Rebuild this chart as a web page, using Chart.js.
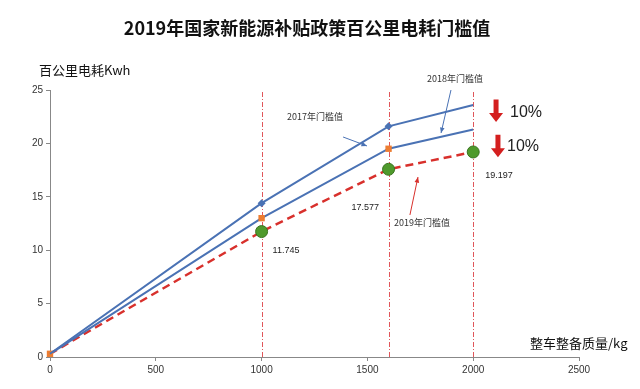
<!DOCTYPE html>
<html>
<head>
<meta charset="utf-8">
<script src="https://cdn.jsdelivr.net/npm/chart.js@4/dist/chart.umd.min.js"></script>
<style>
  html, body { margin: 0; padding: 0; background: #fff; }
  #wrap { width: 640px; height: 389px; position: relative; }
</style>
</head>
<body>
<div id="wrap"><canvas id="chart" width="640" height="389"></canvas></div>
<script>
// Chart data
const weights = [0, 1000, 1600, 2000];          // 整车整备质量 kg
const limit2017 = [0.3, 14.4, 21.6, 23.6];
const limit2018 = [0.3, 13.0, 19.5, 21.3];
const limit2019 = [0.3, 11.745, 17.577, 19.197];
const valueLabels = ['', '11.745', '17.577', '19.197'];
const markLines = [1000, 1600, 2000];
const xTicks = [0, 500, 1000, 1500, 2000, 2500];
const yTicks = [0, 5, 10, 15, 20, 25];

const titleText = '2019年国家新能源补贴政策百公里电耗门槛值';
const yTitle = '百公里电耗Kwh';
const xTitle = '整车整备质量/kg';

const BLUE = '#4a72b4';
const RED = '#d8302c';
const FONT = 'Arial, "Liberation Sans", "Noto Sans CJK SC", sans-serif';
const CJK = '"Noto Sans CJK SC", sans-serif';

function toPoints(ys) {
    return weights.map((w, i) => ({ x: w, y: ys[i] }));
}

// Vertical dash-dot reference lines
const markLinePlugin = {
    id: 'markLines',
    beforeDatasetsDraw(chart) {
        const { ctx, scales: { x, y } } = chart;
        ctx.save();
        ctx.strokeStyle = '#e0565a';
        ctx.lineWidth = 1;
        ctx.setLineDash([5, 2, 1, 2]);
        markLines.forEach(v => {
            const px = Math.round(x.getPixelForValue(v)) + 0.5;
            ctx.beginPath();
            ctx.moveTo(px, y.getPixelForValue(0));
            ctx.lineTo(px, y.getPixelForValue(25));
            ctx.stroke();
        });
        ctx.restore();
    }
};

function arrowLine(ctx, x1, y1, x2, y2, color) {
    const a = Math.atan2(y2 - y1, x2 - x1);
    ctx.strokeStyle = color;
    ctx.fillStyle = color;
    ctx.lineWidth = 1;
    ctx.beginPath();
    ctx.moveTo(x1, y1);
    ctx.lineTo(x2, y2);
    ctx.stroke();
    ctx.beginPath();
    ctx.moveTo(x2, y2);
    ctx.lineTo(x2 - 6 * Math.cos(a - 0.4), y2 - 6 * Math.sin(a - 0.4));
    ctx.lineTo(x2 - 6 * Math.cos(a + 0.4), y2 - 6 * Math.sin(a + 0.4));
    ctx.closePath();
    ctx.fill();
}

function blockArrowDown(ctx, cx, top, bottom) {
    ctx.fillStyle = '#d41f1f';
    ctx.beginPath();
    ctx.moveTo(cx - 2.5, top);
    ctx.lineTo(cx + 2.5, top);
    ctx.lineTo(cx + 2.5, bottom - 9);
    ctx.lineTo(cx + 7, bottom - 9);
    ctx.lineTo(cx, bottom);
    ctx.lineTo(cx - 7, bottom - 9);
    ctx.lineTo(cx - 2.5, bottom - 9);
    ctx.closePath();
    ctx.fill();
}

// Titles, labels and arrows
const annotationPlugin = {
    id: 'annotations',
    afterDraw(chart) {
        const { ctx, scales: { x, y } } = chart;
        const X = v => x.getPixelForValue(v);
        const Y = v => y.getPixelForValue(v);
        ctx.save();

        ctx.fillStyle = '#111';
        ctx.textBaseline = 'middle';
        ctx.textAlign = 'center';
        ctx.font = 'bold 18px ' + CJK;
        ctx.fillText(titleText, 307, 28);

        ctx.textAlign = 'left';
        ctx.font = '13px ' + CJK;
        ctx.fillText(yTitle, 39, 70);
        ctx.fillText(xTitle, 530, 343);

        // value labels on the 2019 line
        ctx.font = '9px ' + FONT;
        ctx.fillStyle = '#222';
        const offs = [null, [11, 19], [-37, 38], [12, 24]];
        valueLabels.forEach((t, i) => {
            if (!t) return;
            ctx.fillText(t, X(weights[i]) + offs[i][0], Y(limit2019[i]) + offs[i][1]);
        });

        // series annotations (data coordinates)
        ctx.font = '9px ' + CJK;
        ctx.fillStyle = '#333';
        ctx.textAlign = 'center';
        ctx.fillText('2017年门槛值', X(1252), Y(22.47));
        arrowLine(ctx, X(1385), Y(20.6), X(1498), Y(19.76), BLUE);
        ctx.fillStyle = '#333';
        ctx.fillText('2018年门槛值', X(1914), Y(26.1));
        arrowLine(ctx, X(1895), Y(25.0), X(1848), Y(20.97), BLUE);
        ctx.fillStyle = '#333';
        ctx.fillText('2019年门槛值', X(1758), Y(12.55));
        arrowLine(ctx, X(1701), Y(13.3), X(1739), Y(16.85), RED);

        // 10% reductions
        blockArrowDown(ctx, X(2108), Y(24.1), Y(22.0));
        blockArrowDown(ctx, X(2117), Y(20.8), Y(18.7));
        ctx.fillStyle = '#222';
        ctx.textAlign = 'left';
        ctx.font = '16px ' + FONT;
        ctx.fillText('10%', X(2174), Y(22.9));
        ctx.fillText('10%', X(2160), Y(19.66));

        ctx.restore();
    }
};

const ctx = document.getElementById('chart').getContext('2d');
new Chart(ctx, {
    type: 'line',
    data: {
        datasets: [
            {
                label: '2017年门槛值',
                data: toPoints(limit2017),
                borderColor: BLUE,
                backgroundColor: BLUE,
                borderWidth: 2,
                pointStyle: 'rectRot',
                pointRadius: [0, 4, 4, 0],
                pointBorderWidth: 0,
                clip: false
            },
            {
                label: '2018年门槛值',
                data: toPoints(limit2018),
                borderColor: BLUE,
                backgroundColor: '#ed7d31',
                borderWidth: 2,
                pointStyle: 'rect',
                pointRadius: [4.5, 4.5, 4.5, 0],
                pointBorderWidth: 0,
                clip: false
            },
            {
                label: '2019年门槛值',
                data: toPoints(limit2019),
                borderColor: RED,
                backgroundColor: '#4f9a2c',
                borderWidth: 2.5,
                borderDash: [8, 5],
                pointStyle: 'circle',
                pointRadius: [0, 6, 6, 6],
                pointBorderColor: '#3a7420',
                pointBorderWidth: 1,
                clip: false
            }
        ]
    },
    options: {
        responsive: false,
        animation: false,
        layout: { padding: { top: 90, right: 61, left: 0, bottom: 0 } },
        plugins: {
            legend: { display: false },
            title: { display: false },
            tooltip: { enabled: false }
        },
        scales: {
            x: {
                type: 'linear',
                min: 0,
                max: 2500,
                afterBuildTicks: s => { s.ticks = xTicks.map(v => ({ value: v })); },
                afterFit: s => { s.height = 32; },
                grid: { drawOnChartArea: false, drawTicks: true, tickLength: 4, color: '#888' },
                border: { color: '#888', width: 1 },
                ticks: { color: '#333', font: { size: 10, family: FONT }, padding: 3, maxRotation: 0,
                         callback: v => String(v) }
            },
            y: {
                min: 0,
                max: 25,
                afterBuildTicks: s => { s.ticks = yTicks.map(v => ({ value: v })); },
                afterFit: s => { s.width = 50; },
                grid: { drawOnChartArea: false, drawTicks: true, tickLength: 4, color: '#888' },
                border: { color: '#888', width: 1 },
                ticks: { color: '#333', font: { size: 10, family: FONT }, padding: 3,
                         callback: v => String(v) }
            }
        }
    },
    plugins: [markLinePlugin, annotationPlugin]
});
</script>
</body>
</html>
